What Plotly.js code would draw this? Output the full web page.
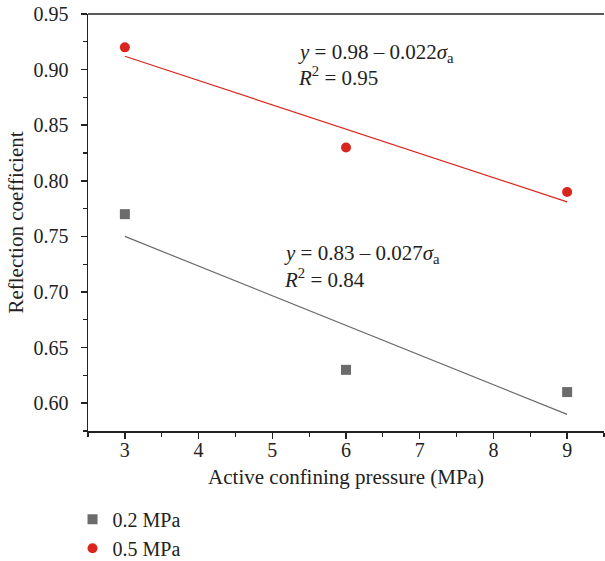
<!DOCTYPE html>
<html>
<head>
<meta charset="utf-8">
<script src="https://cdn.plot.ly/plotly-3.0.1.min.js"></script>
<style>html,body{margin:0;padding:0;background:#fff;}#chart{width:605px;height:561px;}</style>
</head>
<body>
<div id="chart"></div>
<script>
const pressures = [3, 6, 9];
const series02Name = "0.2 MPa";
const series02Values = [0.77, 0.63, 0.61];
const series05Name = "0.5 MPa";
const series05Values = [0.92, 0.83, 0.79];
const fitX = [3, 9];
const fit02Values = [0.75, 0.59];
const fit05Values = [0.912, 0.781];
const eq05Line1 = "<i>y</i> = 0.98 – 0.022<i>σ</i><sub>a</sub>";
const eq05Line2 = "<i>R</i><sup>2</sup> = 0.95";
const eq02Line1 = "<i>y</i> = 0.83 – 0.027<i>σ</i><sub>a</sub>";
const eq02Line2 = "<i>R</i><sup>2</sup> = 0.84";

const grey = "#6b6b6b";
const red = "#d9251d";
const font = "Liberation Serif, serif";

const traces = [
  {x: fitX, y: fit02Values, mode: "lines", line: {color: grey, width: 1.2}, showlegend: false, hoverinfo: "skip"},
  {x: fitX, y: fit05Values, mode: "lines", line: {color: red, width: 1.2}, showlegend: false, hoverinfo: "skip"},
  {x: pressures, y: series02Values, mode: "markers", name: series02Name, marker: {symbol: "square", size: 10, color: grey}},
  {x: pressures, y: series05Values, mode: "markers", name: series05Name, marker: {symbol: "circle", size: 10, color: red}}
];

const axisCommon = {
  showgrid: false, zeroline: false, showline: true, linecolor: "#222", linewidth: 1.5,
  ticks: "outside", ticklen: 6, tickwidth: 1.5, tickcolor: "#222",
  tickfont: {family: font, size: 20, color: "#222"},
  minor: {ticks: "outside", ticklen: 4, tickwidth: 1.2, tickcolor: "#222"}
};

const annFont = {family: font, size: 21, color: "#222"};
const ann = (x, y, text) => ({x: x, y: y, xref: "x", yref: "y", text: text, showarrow: false, xanchor: "left", yanchor: "middle", align: "left", font: annFont});

const layout = {
  width: 605, height: 561,
  margin: {l: 88, r: 1, t: 14, b: 130, autoexpand: false},
  paper_bgcolor: "#fff", plot_bgcolor: "#fff",
  font: {family: font, color: "#222"},
  xaxis: Object.assign({}, axisCommon, {
    range: [2.5, 9.5], dtick: 1, tick0: 3, mirror: false, ticklabelstandoff: -6, automargin: false,
    minor: Object.assign({}, axisCommon.minor, {dtick: 0.5, tick0: 2.5}),
    title: {text: "Active confining pressure (MPa)", font: {family: font, size: 21, color: "#222"}, standoff: 10}
  }),
  yaxis: Object.assign({}, axisCommon, {
    range: [0.575, 0.95], dtick: 0.05, tick0: 0.6, tickformat: ".2f", ticklabelstandoff: 8, automargin: false,
    minor: Object.assign({}, axisCommon.minor, {dtick: 0.025, tick0: 0.575}),
    title: {text: "Reflection coefficient", font: {family: font, size: 21, color: "#222"}, standoff: 4}
  }),
  shapes: [
    {type: "line", xref: "paper", yref: "paper", x0: 0, x1: 1, y0: 1, y1: 1, line: {color: "#222", width: 1.5}}
  ],
  annotations: [
    ann(5.32, 0.915, eq05Line1),
    ann(5.32, 0.894, eq05Line2),
    ann(5.13, 0.7345, eq02Line1),
    ann(5.13, 0.712, eq02Line2)
  ],
  legend: {
    x: -0.03, y: -0.165, xanchor: "left", yanchor: "top", orientation: "v",
    font: {family: font, size: 20, color: "#222"}, bgcolor: "rgba(0,0,0,0)", tracegroupgap: 4
  }
};

Plotly.newPlot("chart", traces, layout, {displayModeBar: false, staticPlot: true});
</script>
</body>
</html>
